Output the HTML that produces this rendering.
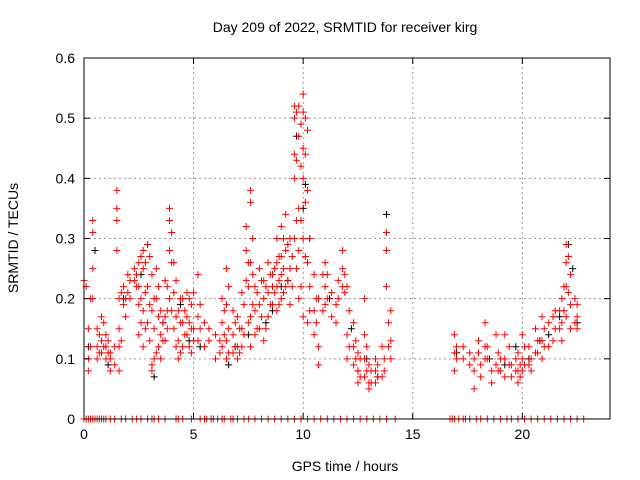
<!DOCTYPE html>
<html><head><meta charset="utf-8">
<style>
html,body{margin:0;padding:0;background:#fff;}
svg{display:block;font-family:"Liberation Sans",sans-serif;}
</style></head>
<body>
<svg id="chart" width="640" height="480" viewBox="0 0 640 480">
<text x="345" y="32" font-size="14" text-anchor="middle">Day 209 of 2022, SRMTID for receiver kirg</text>
<text x="345" y="471" font-size="14" text-anchor="middle">GPS time / hours</text>
<text x="18" y="238" font-size="14" text-anchor="middle" transform="rotate(-90 18 238)">SRMTID / TECUs</text>
<g id="grid"></g><g id="marks"></g><g id="axes"></g>
</svg>
<script>
const xTicks=[0,5,10,15,20];
const yTicks=[0,0.1,0.2,0.3,0.4,0.5,0.6];
const yTickLabels=["0","0.1","0.2","0.3","0.4","0.5","0.6"];
const redHours=[0,0.2,0.4,0.6,0.8,1.0,1.2,1.5,1.6,1.8,2.0,2.3,2.5,2.7,2.9,3.1,3.3,3.5,3.7,3.9,4.1,4.3,4.5,4.7,4.9,5.2,5.5,6.0,6.3,6.5,6.8,7.0,7.2,7.4,7.6,7.8,8.0,8.2,8.4,8.6,8.8,9.0,9.2,9.4,9.6,9.8,10.0,10.2,10.5,10.7,11.0,11.3,11.6,11.8,12.0,12.3,12.5,12.8,13.0,13.3,13.6,13.8,14.0,16.9,17.3,17.8,18.0,18.3,18.6,18.9,19.2,19.5,19.8,20.0,20.3,20.6,20.9,21.2,21.5,21.8,22.0,22.2,22.5];
const redValues=[[0.23],[0.15,0.08,0.10],[0.31,0.33,0.25,0.20],[0.12,0.15,0.10],[0.13,0.17,0.11],[0.12,0.10,0.14],[0.11,0.10,0.08],[0.38,0.35,0.33,0.28],[0.20,0.15,0.12,0.08],[0.22,0.19],[0.24,0.21],[0.25,0.23],[0.26,0.22,0.19,0.14],[0.28,0.25,0.18,0.12],[0.29,0.22,0.16],[0.24,0.18,0.09,0.08],[0.25,0.20,0.11],[0.18,0.14,0.10],[0.23,0.17,0.13],[0.35,0.33,0.28,0.20],[0.26,0.21,0.15],[0.18,0.13,0.10],[0.20,0.16,0.12],[0.21,0.17,0.14],[0.19,0.15,0.11],[0.24,0.17,0.13],[0.16,0.12],[0.14,0.10],[0.20,0.16,0.12],[0.25,0.19,0.13,0.10],[0.18,0.14,0.11],[0.17,0.12,0.10],[0.21,0.15,0.12],[0.32,0.28,0.23],[0.38,0.36,0.26,0.17,0.12],[0.22,0.18,0.14],[0.25,0.19,0.15],[0.23,0.20,0.13],[0.26,0.21,0.17],[0.24,0.22,0.19],[0.30,0.26,0.22,0.18],[0.32,0.27,0.24,0.20],[0.34,0.28,0.22],[0.30,0.25,0.19],[0.52,0.50,0.44,0.40,0.30],[0.52,0.47,0.35,0.28,0.20],[0.54,0.51,0.45,0.40,0.30,0.17],[0.48,0.38,0.26,0.16],[0.24,0.18,0.14],[0.20,0.12,0.09],[0.26,0.22,0.19],[0.21,0.17],[0.23,0.20],[0.28,0.25,0.22],[0.22,0.14,0.10],[0.16,0.12,0.09],[0.11,0.08,0.06],[0.20,0.14,0.10,0.07],[0.09,0.06,0.05],[0.10,0.08,0.06],[0.12,0.07],[0.31,0.28,0.22],[0.18,0.13,0.10],[0.14,0.11,0.08],[0.12,0.10],[0.10,0.08,0.05],[0.13,0.11],[0.16,0.12,0.10],[0.08,0.06],[0.11,0.08],[0.14,0.10,0.07],[0.09,0.07],[0.11,0.08,0.06],[0.14,0.10,0.08],[0.12,0.09],[0.15,0.11],[0.17,0.13,0.10],[0.16,0.12],[0.18,0.15],[0.20,0.16,0.13],[0.29,0.26,0.22,0.17],[0.24,0.19,0.15],[0.19,0.17,0.15]];
const redHours2=[0.1,0.3,0.7,0.9,1.1,1.4,1.7,1.9,2.1,2.4,2.6,2.8,3.0,3.2,3.4,3.6,3.8,4.0,4.2,4.4,4.6,4.8,5.0,5.3,5.7,6.2,6.4,6.6,6.9,7.1,7.3,7.5,7.7,7.9,8.1,8.3,8.5,8.7,8.9,9.1,9.3,9.5,9.7,9.9,10.1,10.3,10.6,10.9,11.1,11.5,11.9,12.1,12.4,12.6,12.9,13.1,13.4,13.7,13.9,17.0,17.6,18.1,18.4,18.8,19.0,19.4,19.7,19.9,20.1,20.4,20.7,21.0,21.4,21.7,21.9,22.1,22.4];
const redValues2=[[0.22],[0.20,0.12],[0.14,0.11],[0.16,0.12],[0.13,0.11],[0.12,0.09],[0.21,0.13],[0.20,0.17],[0.23,0.20],[0.24,0.22],[0.27,0.20,0.16],[0.26,0.21,0.15],[0.27,0.19,0.13],[0.20,0.15,0.10],[0.22,0.17,0.12],[0.16,0.13],[0.22,0.18,0.15],[0.31,0.26,0.18],[0.23,0.17,0.12],[0.20,0.16,0.11],[0.18,0.14],[0.20,0.16,0.12],[0.21,0.15,0.13],[0.19,0.15],[0.15,0.13],[0.13,0.11],[0.18,0.14],[0.22,0.15,0.11],[0.16,0.12],[0.15,0.11],[0.19,0.14],[0.26,0.22,0.16],[0.30,0.24,0.19],[0.21,0.15],[0.23,0.17],[0.22,0.15],[0.24,0.19],[0.25,0.21],[0.27,0.23,0.19],[0.30,0.25,0.21],[0.29,0.23],[0.27,0.22],[0.51,0.43,0.33,0.25],[0.49,0.42,0.33,0.22],[0.50,0.44,0.36,0.27],[0.30,0.22,0.18],[0.20,0.16],[0.24,0.18],[0.24,0.20],[0.19,0.16],[0.24,0.21],[0.18,0.12],[0.13,0.10],[0.10,0.07],[0.12,0.08],[0.08,0.06],[0.09,0.07],[0.10,0.08],[0.16,0.12],[0.12,0.10],[0.11,0.09],[0.09,0.07],[0.12,0.10],[0.14,0.09],[0.10,0.08],[0.12,0.09],[0.10,0.08],[0.09,0.07],[0.12,0.09],[0.10,0.08],[0.13,0.11],[0.15,0.12],[0.17,0.13],[0.18,0.15],[0.22,0.18],[0.27,0.21],[0.20,0.16]];
const blackHours=[0.2,0.5,1.1,2.6,3.2,4.4,5.3,6.6,7.5,8.3,9.3,9.7,10.1,10.3,11.2,12.2,12.9,13.8,17.0,18.5,19.7,20.8,21.7,22.1,22.5,1.8,3.6,4.8,6.9,8.6,9.0,10.0,12.5,13.4,19.2,20.3,21.2,22.3];
const blackValues=[0.12,0.28,0.09,0.24,0.07,0.19,0.12,0.09,0.14,0.16,0.23,0.47,0.39,0.30,0.20,0.15,0.10,0.34,0.11,0.10,0.12,0.13,0.17,0.29,0.16,0.20,0.16,0.13,0.12,0.18,0.22,0.35,0.08,0.07,0.09,0.10,0.14,0.25];
const zeroHours=[0,0.1,0.2,0.3,0.4,0.5,0.6,0.7,0.8,0.9,1.0,1.2,1.4,1.7,1.9,2.2,2.4,2.6,2.9,3.1,3.2,3.4,3.7,4.2,4.3,4.5,4.9,5.3,5.5,5.6,5.8,5.9,6.1,6.3,6.4,6.7,6.8,7.0,7.3,7.5,7.8,8.1,8.4,8.7,9.0,9.3,9.6,9.9,10.2,10.5,10.8,11.1,11.4,11.7,12.0,12.3,12.6,12.9,13.2,13.5,13.8,14.2,16.7,16.8,16.9,17.1,17.3,17.4,17.6,17.9,18.1,18.4,18.7,19.0,19.3,19.5,19.8,20.1,20.4,20.7,21.0,21.3,21.6,21.9,22.2,22.5,22.8];
const NS="http://www.w3.org/2000/svg";
const X0=84,X1=610,Y0=419,Y1=58;
function xs(h){return X0+(h/24)*(X1-X0);}
function ys(v){return Y0-(v/0.6)*(Y0-Y1);}
function mk(t,a,p){const e=document.createElementNS(NS,t);for(const k in a)e.setAttribute(k,a[k]);p.appendChild(e);return e;}
const grid=document.getElementById('grid'),marks=document.getElementById('marks'),axes=document.getElementById('axes');
xTicks.forEach(t=>{const x=xs(t);
 if(t>0){const g=mk('line',{x1:x,y1:Y0,x2:x,y2:Y1,stroke:'#999','stroke-dasharray':'2,3','stroke-width':1},grid);
 
 }
 const l=mk('text',{x:x,y:Y0+20,'font-size':14,'text-anchor':'middle'},axes);l.textContent=t;
 
 
 mk('line',{x1:x,y1:Y0,x2:x,y2:Y0-6,stroke:'#000'},axes);mk('line',{x1:x,y1:Y1,x2:x,y2:Y1+6,stroke:'#000'},axes);
});
yTicks.forEach((t,i)=>{const y=ys(t);
 if(t>0&&t<0.6){const g=mk('line',{x1:X0,y1:y,x2:X1,y2:y,stroke:'#999','stroke-dasharray':'2,3','stroke-width':1},grid);
 
 }
 const l=mk('text',{x:X0-9,y:y+5,'font-size':14,'text-anchor':'end'},axes);l.textContent=yTickLabels[i];
 
 
 mk('line',{x1:X0,y1:y,x2:X0+6,y2:y,stroke:'#000'},axes);mk('line',{x1:X1,y1:y,x2:X1-6,y2:y,stroke:'#000'},axes);
});
const fr=mk('rect',{x:X0,y:Y1,width:X1-X0,height:Y0-Y1,fill:'none',stroke:'#000'},axes);


function plus(h,v,c,name){const x=xs(h),y=ys(v);
 const p=mk('path',{d:`M${x-3.5},${y}H${x+3.5}M${x},${y-3.5}V${y+3.5}`,stroke:c,'stroke-width':1,fill:'none'},marks);
 
 }
zeroHours.forEach(h=>plus(h,0,'#f00','zero-point'));
blackHours.forEach((h,i)=>plus(h,blackValues[i],'#000','black-point'));
redHours.forEach((h,i)=>redValues[i].forEach(v=>plus(h,v,'#f00','red-point')));
redHours2.forEach((h,i)=>redValues2[i].forEach(v=>plus(h,v,'#f00','red-point')));
</script>
</body></html>
